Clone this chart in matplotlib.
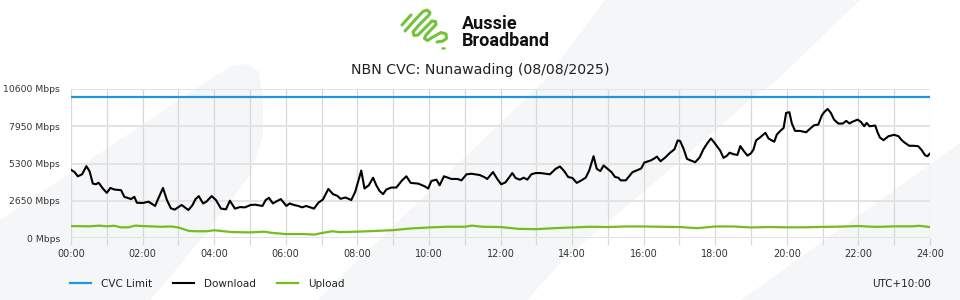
import numpy as np
import matplotlib
matplotlib.use("Agg")
import matplotlib.pyplot as plt
from matplotlib.patches import Polygon, Circle
from matplotlib.lines import Line2D
from matplotlib.ticker import MultipleLocator

# chart data (hours since midnight, Mbps)
cvc_hours = [0, 24]
cvc_limit = [10000, 10000]

dl_hours = [0.00, 0.10, 0.19, 0.31, 0.43, 0.52, 0.61, 0.70, 0.77, 0.89, 1.00, 1.10, 1.21, 1.40,
            1.49, 1.68, 1.77, 1.84, 2.00, 2.17, 2.35, 2.46, 2.57, 2.68, 2.79, 2.90, 3.09, 3.28,
            3.39, 3.48, 3.57, 3.69, 3.78, 3.93, 4.05, 4.19, 4.33, 4.44, 4.58, 4.72, 4.86, 5.02,
            5.14, 5.35, 5.44, 5.53, 5.64, 5.86, 6.02, 6.11, 6.23, 6.35, 6.46, 6.57, 6.79, 6.91,
            7.04, 7.19, 7.32, 7.44, 7.53, 7.67, 7.83, 7.94, 8.11, 8.20, 8.32, 8.44, 8.53, 8.62,
            8.72, 8.81, 8.95, 9.09, 9.25, 9.37, 9.49, 9.70, 9.88, 9.98, 10.07, 10.21, 10.30, 10.42,
            10.63, 10.80, 10.91, 11.05, 11.19, 11.30, 11.42, 11.54, 11.63, 11.79, 11.91, 12.02,
            12.14, 12.33, 12.42, 12.54, 12.65, 12.75, 12.86, 12.98, 13.12, 13.38, 13.54, 13.66,
            13.78, 13.89, 14.01, 14.13, 14.26, 14.38, 14.48, 14.60, 14.69, 14.79, 14.88, 14.99,
            15.10, 15.20, 15.29, 15.36, 15.50, 15.69, 15.81, 15.93, 16.02, 16.19, 16.28, 16.37,
            16.47, 16.60, 16.74, 16.86, 16.95, 17.02, 17.12, 17.21, 17.32, 17.44, 17.56, 17.67,
            17.77, 17.88, 17.97, 18.07, 18.14, 18.23, 18.33, 18.40, 18.51, 18.62, 18.70, 18.79,
            18.90, 19.00, 19.07, 19.14, 19.24, 19.40, 19.49, 19.58, 19.65, 19.72, 19.83, 19.91,
            19.98, 20.07, 20.14, 20.23, 20.37, 20.54, 20.65, 20.76, 20.88, 20.98, 21.05, 21.14,
            21.23, 21.32, 21.44, 21.56, 21.66, 21.75, 21.84, 21.98, 22.07, 22.16, 22.23, 22.31,
            22.47, 22.53, 22.60, 22.70, 22.84, 23.00, 23.12, 23.21, 23.30, 23.42, 23.55, 23.67,
            23.77, 23.86, 23.93, 24.00]
download = [4850, 4690, 4390, 4530, 5110, 4740, 3870, 3820, 3940, 3520, 3210, 3560, 3450, 3400,
            2930, 2770, 2930, 2510, 2490, 2580, 2280, 2930, 3560, 2700, 2110, 2020, 2350, 1990,
            2320, 2770, 2980, 2460, 2580, 2980, 2700, 2090, 2040, 2650, 2090, 2200, 2180, 2350,
            2370, 2280, 2700, 2860, 2460, 2770, 2280, 2460, 2350, 2280, 2180, 2280, 2090, 2510,
            2740, 3490, 3120, 3000, 2790, 2880, 2700, 3280, 4800, 3520, 3750, 4290, 3750, 3350,
            3120, 3450, 3590, 3590, 4100, 4390, 3920, 3870, 3680, 3520, 4060, 4150, 3750, 4390,
            4200, 4200, 4100, 4530, 4570, 4530, 4480, 4340, 4200, 4690, 4200, 3820,
            3960, 4620, 4270, 4150, 4290, 4150, 4530, 4620, 4620, 4530, 4920, 5090,
            4760, 4340, 4270, 3920, 4100, 4290, 4810, 5820, 4920, 4760, 5160, 4920,
            4690, 4340, 4290, 4100, 4100, 4690, 4810, 4950, 5370, 5510, 5630, 5790,
            5460, 5720, 6070, 6310, 6940, 6900, 6310, 5630, 5510, 5390, 5720, 6310,
            6710, 7080, 6800, 6450, 6210, 5700, 5860, 6070, 5960, 5910, 6540, 6210,
            5860, 6030, 6310, 6940, 7130, 7480, 7080, 6940, 6850, 7360, 7650, 7830,
            8900, 8950, 8150, 7620, 7620, 7520, 7780, 8020, 8070, 8730, 8970, 9180,
            8900, 8420, 8140, 8140, 8330, 8150, 8280, 8420, 8260, 7950, 8190, 7950,
            8000, 7550, 7150, 6960, 7240, 7340, 7240, 6960, 6770, 6560, 6560, 6530,
            6250, 5890, 5820, 6010]

ul_hours = [0.0, 0.5, 0.8, 1.0, 1.2, 1.4, 1.6, 1.8, 2.0, 2.2, 2.5, 2.8, 3.0, 3.3, 3.5, 3.8,
            4.0, 4.2, 4.5, 5.0, 5.4, 5.6, 6.0, 6.5, 6.8, 7.0, 7.3, 7.5, 8.0, 8.5, 9.0, 9.5,
            10.0, 10.5, 11.0, 11.2, 11.5, 12.0, 12.5, 13.0, 13.5, 14.0, 14.5, 15.0, 15.5, 16.0,
            16.5, 17.0, 17.5, 18.0, 18.5, 19.0, 19.5, 20.0, 20.5, 21.0, 21.5, 22.0, 22.5, 23.0,
            23.5, 23.7, 24.0]
upload = [850, 830, 880, 830, 870, 760, 760, 880, 850, 830, 800, 820, 750, 500, 480, 480,
          550, 500, 420, 400, 450, 370, 280, 280, 240, 350, 480, 420, 450, 500, 560, 680,
          750, 800, 800, 880, 800, 780, 650, 630, 700, 750, 800, 780, 820, 820,
          800, 780, 700, 820, 820, 750, 780, 760, 760, 790, 810, 850, 790, 830,
          830, 870, 780]

y_ticks = [0, 2650, 5300, 7950, 10600]
x_ticks = list(range(0, 25, 2))
x_labels = ["%02d:00" % h for h in x_ticks]

W, H = 960, 300


def px(x, y):
    return x / W, 1 - y / H


fig = plt.figure(figsize=(9.6, 3.0), dpi=100)
fig.patch.set_facecolor("white")

# faint background shapes
bg = "#f5f6f8"
shapes = [
    [(0, 220), (212, 78), (232, 66), (248, 64), (259, 72), (263, 100), (263, 135),
     (250, 175), (220, 215), (184, 260), (150, 300), (0, 300)],
    [(318, 300), (358, 260), (545, 80), (605, 0), (860, 0), (777, 80), (750, 100),
     (640, 195), (563, 260), (527, 300)],
    [(741, 300), (797, 260), (960, 143), (960, 300)],
]
for s in shapes:
    fig.add_artist(Polygon([px(*p) for p in s], closed=True, facecolor=bg,
                           edgecolor="none", transform=fig.transFigure, zorder=0))

# logo
green = "#72c23a"
strokes = [
    [(402, 25), (411, 15)],
    [(405, 31), (414, 21), (423, 11.5), (427, 10), (430, 12.5), (429, 15), (419, 25),
     (413, 32), (414, 35.5), (418, 35), (428, 25), (432, 21), (435.5, 21.5), (436, 24.5),
     (426, 35), (424.5, 38.5), (427.5, 40.5), (433, 37), (441, 32.5), (446, 34),
     (446.5, 38.5), (443, 41), (437, 42)],
]
for s in strokes:
    xs, ys = zip(*[px(*p) for p in s])
    fig.add_artist(Line2D(xs, ys, color=green, lw=2.2, solid_capstyle="round",
                          solid_joinstyle="round", transform=fig.transFigure))
fig.add_artist(Circle(px(443.5, 48.5), 1.6 / W, color=green, transform=fig.transFigure))
fig.text(*px(462, 24), "Aussie", fontsize=13, fontweight="bold", family="Roboto",
         va="center", ha="left", color="#111111")
fig.text(*px(462, 41.5), "Broadband", fontsize=13, fontweight="bold", family="Roboto",
         va="center", ha="left", color="#111111")

fig.text(0.5, 1 - 70 / H, "NBN CVC: Nunawading (08/08/2025)", ha="center", va="center",
         fontsize=10.2, color="#222222")

ax = fig.add_axes([71 / W, 62 / H, 859 / W, 149 / H])
ax.set_facecolor("none")
ax.set_zorder(2)

ax.plot(cvc_hours, cvc_limit, color="#1b98d5", lw=1.6, label="CVC Limit", zorder=3)
ax.plot(dl_hours, download, color="black", lw=1.5, label="Download", zorder=4,
        solid_joinstyle="round")
ax.plot(ul_hours, upload, color="#76bc21", lw=1.6, label="Upload", zorder=3)

ax.set_xlim(0, 24)
ax.set_ylim(0, 10600)
ax.set_xticks(x_ticks)
ax.set_xticklabels(x_labels)
ax.xaxis.set_minor_locator(MultipleLocator(1))
ax.set_yticks(y_ticks)
ax.set_yticklabels(["%d Mbps" % v for v in y_ticks])

for sp in ax.spines.values():
    sp.set_visible(False)

ax.grid(True, axis="x", which="both", color="#d8d8d8", lw=0.9, zorder=1)
ax.grid(True, axis="y", color="#e3e3e3", lw=1.4, zorder=1)
ax.set_axisbelow(True)
ax.tick_params(axis="x", which="major", length=5, color="#d8d8d8", width=0.9,
               labelsize=7, labelcolor="#333333", pad=3)
ax.tick_params(axis="x", which="minor", length=5, color="#d8d8d8", width=0.9)
ax.tick_params(axis="y", length=0, labelsize=6.7, labelcolor="#333333", pad=8)

fig.legend(loc="center left", bbox_to_anchor=(70 / W, 16 / H), ncol=3, frameon=False,
           fontsize=7.5, handlelength=2.0, handletextpad=1.0, columnspacing=2.0,
           borderpad=0, borderaxespad=0, labelcolor="#222222")
fig.text(931 / W, 16 / H, "UTC+10:00", ha="right", va="center", fontsize=7.5,
         color="#222222")

fig.savefig("out.png", dpi=100, facecolor="white")
